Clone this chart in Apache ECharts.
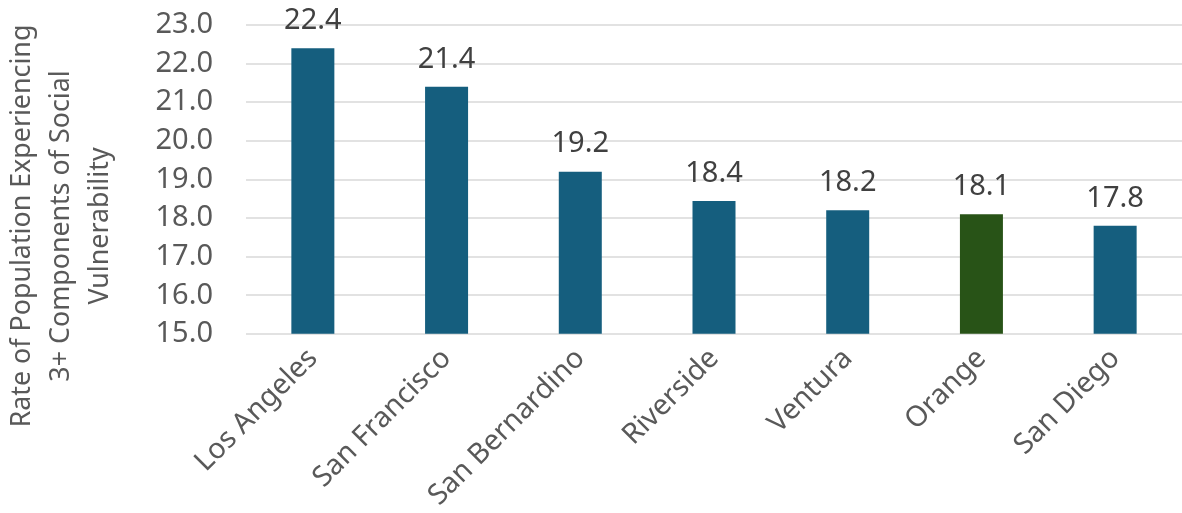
<!DOCTYPE html>
<html>
<head>
<meta charset="utf-8">
<script src="https://cdn.jsdelivr.net/npm/echarts@6/dist/echarts.min.js"></script>
<style>
  html, body { margin: 0; padding: 0; background: #ffffff; }
  #chart { width: 1182px; height: 513px; }
</style>
</head>
<body>
<div id="chart"></div>
<script>
// Counties ranked by share of residents with 3+ components of social vulnerability
const counties = ['Los Angeles', 'San Francisco', 'San Bernardino', 'Riverside', 'Ventura', 'Orange', 'San Diego'];
const rates = [22.4, 21.4, 19.2, 18.44, 18.2, 18.1, 17.8];
const highlightCounty = 'Orange';
const yTitleLines = ['Rate of Population Experiencing', '3+ Components of Social', 'Vulnerability'];

const FONT = '"Noto Sans", "Open Sans", sans-serif';
const BLUE = '#155e7e';
const GREEN = '#285317';

const chart = echarts.init(document.getElementById('chart'), null, { renderer: 'canvas' });

chart.setOption({
  backgroundColor: '#ffffff',
  animation: false,
  grid: { left: 246, top: 25, width: 944, height: 311, containLabel: false },
  xAxis: {
    type: 'category',
    data: counties,
    axisLine: { show: false },
    axisTick: { show: false },
    axisLabel: {
      rotate: 45,
      interval: 0,
      margin: 20,
      color: '#595959',
      fontFamily: FONT,
      fontSize: 28.5
    }
  },
  yAxis: {
    type: 'value',
    min: 15,
    max: 23,
    interval: 1,
    axisLine: { show: false },
    axisTick: { show: false },
    splitLine: { lineStyle: { color: '#d9d9d9', width: 1.5 } },
    axisLabel: {
      margin: 33,
      color: '#595959',
      fontFamily: FONT,
      fontSize: 29
    ,
      formatter: v => v.toFixed(1)
    }
  },
  graphic: [{
    type: 'text',
    x: 61,
    y: 226,
    rotation: Math.PI / 2,
    style: {
      text: yTitleLines.join('\n'),
      fill: '#595959',
      font: '26.8px ' + FONT,
      textAlign: 'center',
      textVerticalAlign: 'middle',
      lineHeight: 39
    }
  }],
  series: [{
    type: 'bar',
    barWidth: 43,
    data: counties.map((c, i) => ({
      value: rates[i],
      itemStyle: { color: c === highlightCounty ? GREEN : BLUE }
    })),
    label: {
      show: true,
      position: 'top',
      distance: 13,
      color: '#404040',
      fontFamily: FONT,
      fontSize: 29,
      formatter: p => p.value.toFixed(1)
    }
  }]
});
</script>
</body>
</html>
